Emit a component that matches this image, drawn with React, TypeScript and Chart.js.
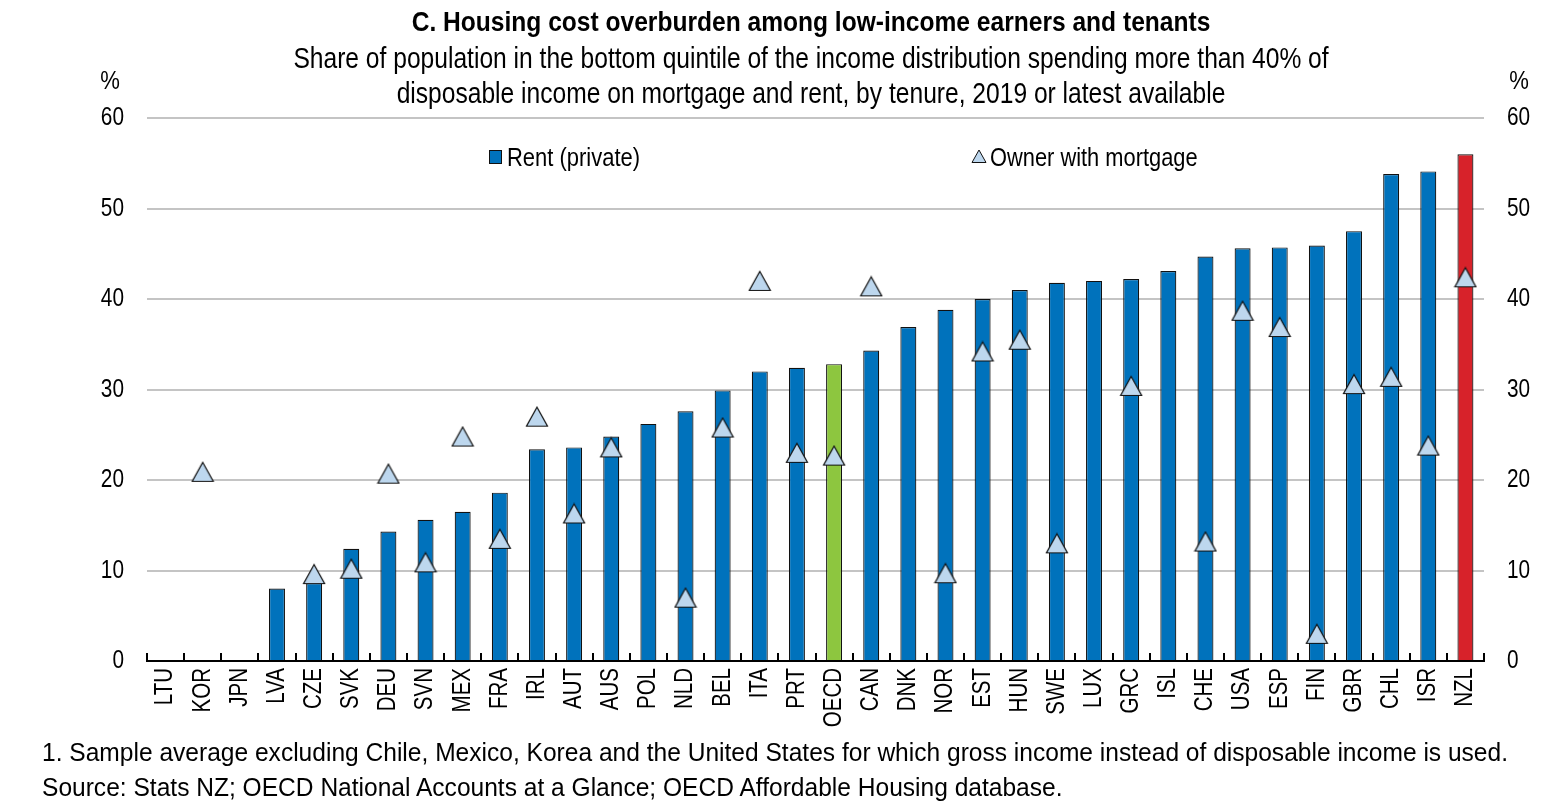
import React, { useEffect, useRef } from "react";
import { Chart, registerables } from "chart.js";

Chart.register(...registerables);

const categories = ["LTU","KOR","JPN","LVA","CZE","SVK","DEU","SVN","MEX","FRA","IRL","AUT","AUS","POL","NLD","BEL","ITA","PRT","OECD","CAN","DNK","NOR","EST","HUN","SWE","LUX","GRC","ISL","CHE","USA","ESP","FIN","GBR","CHL","ISR","NZL"];
const rentPrivate = [null,null,null,8.0,8.6,12.4,14.3,15.6,16.5,18.6,23.4,23.6,24.8,26.2,27.6,29.9,32.0,32.4,32.8,34.3,36.9,38.8,40.0,41.0,41.8,42.0,42.2,43.1,44.7,45.6,45.7,45.9,47.5,53.8,54.1,56.0];
const ownerMortgage = [null,20.9,null,null,9.6,10.2,20.7,10.9,24.8,13.5,27.0,16.3,23.6,null,7.0,25.8,42.0,23.0,22.7,41.4,null,9.7,34.2,35.5,13.0,null,30.4,null,13.2,38.7,36.9,3.0,30.6,31.4,23.8,42.4];
const yTicks = [0,10,20,30,40,50,60];

const FONT = "'Liberation Sans', Arial, sans-serif";
const NARROW = 0.82;
const BLUE = "#0072BC";
const GREEN = "#8DC63F";
const RED = "#D7222A";
const TRI = "#BDD7EE";

function makeTriangle(): HTMLCanvasElement {
  const c = document.createElement("canvas");
  c.width = 24;
  c.height = 22;
  const ctx = c.getContext("2d")!;
  ctx.beginPath();
  ctx.moveTo(12, 1.5);
  ctx.lineTo(22.5, 20.5);
  ctx.lineTo(1.5, 20.5);
  ctx.closePath();
  ctx.fillStyle = TRI;
  ctx.fill();
  ctx.strokeStyle = "#111";
  ctx.lineWidth = 1.2;
  ctx.stroke();
  return c;
}

const axisDecor = {
  id: "axisDecor",
  afterDatasetsDraw(chart: any) {
    const xs = chart.scales.x;
    const ys = chart.scales.y;
    const ctx = chart.ctx;
    const n = categories.length;
    const area = chart.chartArea;
    ctx.save();
    ctx.strokeStyle = "#000";
    ctx.lineWidth = 2;
    for (let i = 0; i <= n; i++) {
      const x = Math.round(xs.left + (i * xs.width) / n);
      ctx.beginPath();
      ctx.moveTo(x, area.bottom);
      ctx.lineTo(x, area.bottom - 8);
      ctx.stroke();
    }
    ctx.fillStyle = "#000";
    ctx.font = `25px ${FONT}`;
    ctx.textAlign = "right";
    ctx.textBaseline = "middle";
    categories.forEach((c, i) => {
      const x = xs.getPixelForValue(i);
      ctx.save();
      ctx.translate(x, area.bottom + 7);
      ctx.rotate(-Math.PI / 2);
      ctx.scale(NARROW, 1);
      ctx.fillText(c, 0, 0);
      ctx.restore();
    });
    ctx.font = `26px ${FONT}`;
    yTicks.forEach((v) => {
      const y = ys.getPixelForValue(v);
      ctx.save();
      ctx.translate(area.left - 23, y);
      ctx.scale(0.8, 1);
      ctx.textAlign = "right";
      ctx.fillText(String(v), 0, 0);
      ctx.restore();
      ctx.save();
      ctx.translate(area.right + 23, y);
      ctx.scale(0.8, 1);
      ctx.textAlign = "left";
      ctx.fillText(String(v), 0, 0);
      ctx.restore();
    });
    ctx.restore();
  },
};

export default function App() {
  const ref = useRef<HTMLCanvasElement>(null);
  useEffect(() => {
    document.body.style.margin = "0";
    const colors = categories.map((c) => (c === "OECD" ? GREEN : c === "NZL" ? RED : BLUE));
    const tri = makeTriangle();
    const chart = new Chart(ref.current!, {
      type: "bar",
      data: {
        labels: categories,
        datasets: [
          {
            type: "bar",
            label: "Rent (private)",
            data: rentPrivate as any,
            backgroundColor: colors,
            borderColor: "#111",
            borderWidth: 1.2,
            barPercentage: 0.43,
            categoryPercentage: 1,
            order: 2,
            yAxisID: "y",
          },
          {
            type: "line",
            label: "Owner with mortgage",
            data: ownerMortgage as any,
            showLine: false,
            pointStyle: tri as any,
            pointRadius: 11,
            order: 1,
            yAxisID: "y",
          } as any,
        ],
      },
      options: {
        animation: false,
        responsive: false,
        devicePixelRatio: 1,
        layout: { padding: { top: 118, left: 0, right: 0, bottom: 0 } },
        plugins: { legend: { display: false }, tooltip: { enabled: false }, title: { display: false } },
        scales: {
          x: {
            type: "category",
            offset: true,
            grid: { display: false, drawTicks: false },
            border: { display: true, color: "#000", width: 2 },
            ticks: { display: false, autoSkip: false },
            afterFit: (s: any) => { s.height = 151; },
          },
          y: {
            position: "left",
            min: 0,
            max: 60,
            afterBuildTicks: (s: any) => { s.ticks = yTicks.map((v) => ({ value: v })); },
            grid: { color: "#C4C4C4", lineWidth: 2, drawTicks: false },
            border: { display: false },
            ticks: { display: false },
            afterFit: (s: any) => { s.width = 147; },
          },
          y2: {
            position: "right",
            min: 0,
            max: 60,
            afterBuildTicks: (s: any) => { s.ticks = yTicks.map((v) => ({ value: v })); },
            grid: { display: false, drawTicks: false },
            border: { display: false },
            ticks: { display: false },
            afterFit: (s: any) => { s.width = 58; },
          },
        },
      },
      plugins: [axisDecor],
    });
    return () => chart.destroy();
  }, []);

  const abs = (o: React.CSSProperties): React.CSSProperties => ({ position: "absolute", fontFamily: FONT, color: "#000", whiteSpace: "nowrap", ...o });

  return (
    <div style={{ position: "relative", width: 1542, height: 812, background: "#fff", overflow: "hidden" }}>
      <canvas ref={ref} width={1542} height={812} style={{ position: "absolute", left: 0, top: 0, width: 1542, height: 812 }} />
      <div style={abs({ left: 11, width: 1600, top: 7, textAlign: "center", fontSize: 27, lineHeight: "30px", fontWeight: "bold", transform: "scaleX(0.91)", transformOrigin: "800px 0" })}>
        C. Housing cost overburden among low-income earners and tenants
      </div>
      <div style={abs({ left: 11, width: 1600, top: 39.5, textAlign: "center", fontSize: 30, lineHeight: "35px", transform: "scaleX(0.82)", transformOrigin: "800px 0" })}>
        Share of population in the bottom quintile of the income distribution spending more than 40% of
        <br />
        disposable income on mortgage and rent, by tenure, 2019 or latest available
      </div>
      <div style={abs({ left: 90, width: 40, top: 65, textAlign: "center", fontSize: 26, lineHeight: "30px", transform: "scaleX(0.85)" })}>%</div>
      <div style={abs({ left: 1499, width: 40, top: 65, textAlign: "center", fontSize: 26, lineHeight: "30px", transform: "scaleX(0.85)" })}>%</div>
      <div style={{ position: "absolute", left: 489, top: 150, width: 13, height: 14, background: BLUE, border: "1px solid #111", boxSizing: "border-box" }} />
      <div style={abs({ left: 507, top: 142, fontSize: 26, lineHeight: "30px", transform: "scaleX(0.845)", transformOrigin: "0 0" })}>Rent (private)</div>
      <svg style={{ position: "absolute", left: 971, top: 149 }} width={16} height={15}>
        <polygon points="8,1 15,13.5 1,13.5" fill={TRI} stroke="#111" strokeWidth={1} />
      </svg>
      <div style={abs({ left: 990, top: 142, fontSize: 26, lineHeight: "30px", transform: "scaleX(0.84)", transformOrigin: "0 0" })}>Owner with mortgage</div>
      <div style={abs({ left: 42, top: 734.5, fontSize: 25.5, lineHeight: "35px", transform: "scaleX(0.963)", transformOrigin: "0 0" })}>
        1. Sample average excluding Chile, Mexico, Korea and the United States for which gross income instead of disposable income is used.
        <br />
        Source: Stats NZ; OECD National Accounts at a Glance; OECD Affordable Housing database.
      </div>
    </div>
  );
}
